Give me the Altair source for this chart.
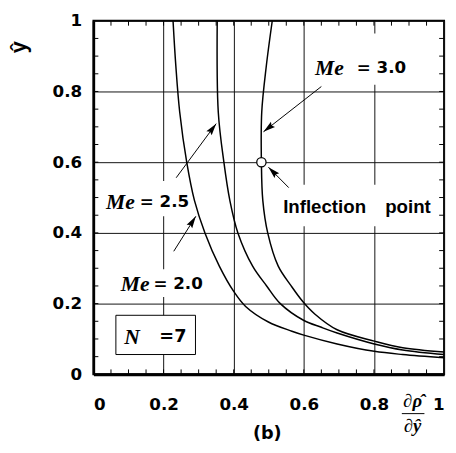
import math
import altair as alt
import pandas as pd

# ---------------- data ----------------
ME20_X = [0.227, 0.235, 0.246, 0.266, 0.288, 0.318, 0.359, 0.401, 0.434, 0.499, 0.566, 0.600, 0.695, 0.801, 0.882, 1.0]
ME20_Y = [1.0, 0.872, 0.742, 0.600, 0.492, 0.400, 0.306, 0.233, 0.192, 0.148, 0.122, 0.111, 0.086, 0.065, 0.056, 0.047]

ME25_X = [0.353, 0.356, 0.372, 0.389, 0.412, 0.454, 0.494, 0.533, 0.599, 0.650, 0.695, 0.801, 0.882, 1.0]
ME25_Y = [1.0, 0.742, 0.600, 0.492, 0.400, 0.306, 0.250, 0.200, 0.153, 0.133, 0.117, 0.086, 0.069, 0.056]

ME30_X = [0.510, 0.493, 0.480, 0.479, 0.483, 0.497, 0.527, 0.564, 0.597, 0.632, 0.695, 0.801, 0.882, 1.0]
ME30_Y = [1.0, 0.872, 0.742, 0.600, 0.492, 0.400, 0.306, 0.250, 0.206, 0.170, 0.126, 0.094, 0.075, 0.063]

SERIES = ["Me = 2.0", "Me = 2.5", "Me = 3.0"]

INFLECTION_X = [0.479]
INFLECTION_Y = [0.600]

X_TICKS = [0, 0.2, 0.4, 0.6, 0.8, 1]
Y_TICKS = [0, 0.2, 0.4, 0.6, 0.8, 1]
MINOR_TICKS = [round(i * 0.05, 2) for i in range(1, 20)]

# ---------------- annotations (data coordinates) ----------------
ME_LABEL_X = [0.160, 0.118, 0.714]          # right edge of italic "Me"
ME_VALUE_X = [0.171, 0.132, 0.751]          # left edge of "= n.n"
ME_LABEL_Y = [0.256, 0.486, 0.866]
ME_VALUES = ["= 2.0", "= 2.5", "= 3.0"]

ARROW_TAIL_X = [0.229, 0.236, 0.650, 0.557]
ARROW_TAIL_Y = [0.348, 0.556, 0.814, 0.528]
ARROW_TIP_X = [0.292, 0.350, 0.485, 0.499]
ARROW_TIP_Y = [0.447, 0.709, 0.686, 0.586]

BG_X = [0.014, 0.064, 0.532, 0.616]
BG_X2 = [0.268, 0.328, 0.966, 0.910]
BG_Y = [0.447, 0.219, 0.419, 0.819]
BG_Y2 = [0.547, 0.297, 0.536, 0.964]

BOX_X, BOX_X2, BOX_Y, BOX_Y2 = [0.064], [0.291], [0.056], [0.167]

PX_W, PX_H = 357, 360
TICK_LEN = 5

# ---------------- frames ----------------
rows = []
for name, xs, ys in zip(SERIES, [ME20_X, ME25_X, ME30_X], [ME20_Y, ME25_Y, ME30_Y]):
    for i, (x, y) in enumerate(zip(xs, ys)):
        rows.append({"series": name, "x": x, "y": y, "i": i})
curves = pd.DataFrame(rows)

arrow_rows = []
head_rows = []
for k in range(len(ARROW_TIP_X)):
    arrow_rows.append({"a": k, "x": ARROW_TAIL_X[k], "y": ARROW_TAIL_Y[k], "i": 0})
    arrow_rows.append({"a": k, "x": ARROW_TIP_X[k], "y": ARROW_TIP_Y[k], "i": 1})
    dx = (ARROW_TIP_X[k] - ARROW_TAIL_X[k]) * PX_W
    dy = (ARROW_TIP_Y[k] - ARROW_TAIL_Y[k]) * PX_H
    ang = math.degrees(math.atan2(dx, dy)) % 360
    head_rows.append({"x": ARROW_TIP_X[k], "y": ARROW_TIP_Y[k], "ang": ang})
arrows = pd.DataFrame(arrow_rows)
heads = pd.DataFrame(head_rows)

bg = pd.DataFrame({"x": BG_X, "x2": BG_X2, "y": BG_Y, "y2": BG_Y2})
box = pd.DataFrame({"x": BOX_X, "x2": BOX_X2, "y": BOX_Y, "y2": BOX_Y2})
inflect = pd.DataFrame({"x": INFLECTION_X, "y": INFLECTION_Y})
minor = pd.DataFrame({"v": MINOR_TICKS})

me_lab = pd.DataFrame({"x": ME_LABEL_X, "y": ME_LABEL_Y, "t": ["Me"] * 3})
me_val = pd.DataFrame({"x": ME_VALUE_X, "y": ME_LABEL_Y, "t": ME_VALUES})

SC = alt.Scale(domain=[0, 1], nice=False, zero=False)
SANS = "DejaVu Sans"
SERIF = "Liberation Serif"

def X(field="x", axis=None):
    return alt.X(f"{field}:Q", scale=SC, axis=axis, title=None)

def Y(field="y", axis=None):
    return alt.Y(f"{field}:Q", scale=SC, axis=axis, title=None)

main_x_axis = alt.Axis(values=X_TICKS, format="~g", grid=True, ticks=False, tickSize=0, domain=True,
                       domainColor="black", domainWidth=3, gridColor="#111", gridWidth=1,
                       labelFont=SANS, labelFontWeight="bold", labelFontSize=17, labelColor="black",
                       labelPadding=23, labelBaseline="top", title=None, orient="bottom")
main_y_axis = alt.Axis(values=Y_TICKS, format="~g", grid=True, ticks=False, tickSize=0, domain=True,
                       domainColor="black", domainWidth=2.5, gridColor="#111", gridWidth=1,
                       labelFont=SANS, labelFontWeight="bold", labelFontSize=17, labelColor="black",
                       labelPadding=12, title=None, orient="left")

bg_layer = alt.Chart(bg).mark_rect(fill="white", stroke=None).encode(
    x=X("x"), x2="x2", y=Y("y"), y2="y2")

box_layer = alt.Chart(box).mark_rect(fill="white", stroke="black", strokeWidth=1).encode(
    x=X("x"), x2="x2", y=Y("y"), y2="y2")

# inward minor ticks on all four sides
tick_b = alt.Chart(minor).mark_rule(color="black", strokeWidth=1).encode(
    x=X("v"), y=alt.value(PX_H), y2=alt.value(PX_H - TICK_LEN))
tick_t = alt.Chart(minor).mark_rule(color="black", strokeWidth=1).encode(
    x=X("v"), y=alt.value(0), y2=alt.value(TICK_LEN))
tick_l = alt.Chart(minor).mark_rule(color="black", strokeWidth=1).encode(
    y=Y("v"), x=alt.value(0), x2=alt.value(TICK_LEN))
tick_r = alt.Chart(minor).mark_rule(color="black", strokeWidth=1).encode(
    y=Y("v"), x=alt.value(PX_W), x2=alt.value(PX_W - TICK_LEN))

lines = alt.Chart(curves).mark_line(color="black", strokeWidth=1.5, interpolate="catmull-rom").encode(
    x=X("x", main_x_axis), y=Y("y", main_y_axis), detail="series:N", order="i:Q")

arrow_lines = alt.Chart(arrows).mark_line(color="black", strokeWidth=1).encode(
    x=X(), y=Y(), detail="a:N", order="i:Q")

arrow_heads = alt.Chart(heads).mark_point(
    shape="M0,0L0.55,2L0,1.7L-0.55,2Z", filled=True, color="black", size=150, opacity=1
).encode(x=X(), y=Y(), angle=alt.Angle("ang:Q", scale=None))

point = alt.Chart(inflect).mark_point(shape="circle", filled=True, fill="white", stroke="black",
                                      strokeWidth=1.3, size=90, opacity=1).encode(
    x=X(), y=Y())

me_text = alt.Chart(me_lab).mark_text(font=SERIF, fontStyle="italic", fontWeight="bold", fontSize=22,
                                      align="right", baseline="middle", color="black").encode(
    x=X(), y=Y(), text="t:N")
val_text = alt.Chart(me_val).mark_text(font=SANS, fontWeight="bold", fontSize=17,
                                       align="left", baseline="middle", color="black").encode(
    x=X(), y=Y(), text="t:N")

infl_text = alt.Chart(pd.DataFrame({"x": [0.541, 0.832], "y": [0.472, 0.472], "t": ["Inflection", "point"]})).mark_text(
    font="Liberation Sans", fontWeight="bold", fontSize=19, align="left", baseline="middle", color="black").encode(
    x=X(), y=Y(), text="t:N")

n_text_a = alt.Chart(pd.DataFrame({"x": [0.088], "y": [0.104], "t": ["N"]})).mark_text(
    font=SERIF, fontStyle="italic", fontWeight="bold", fontSize=22, align="left", baseline="middle",
    color="black").encode(x=X(), y=Y(), text="t:N")
n_text_b = alt.Chart(pd.DataFrame({"x": [0.188], "y": [0.104], "t": ["=7"]})).mark_text(
    font=SANS, fontWeight="bold", fontSize=18, align="left", baseline="middle",
    color="black").encode(x=X(), y=Y(), text="t:N")

# axis titles / caption (pixel placement outside plot)
ytitle = alt.Chart(pd.DataFrame({"t": ["ŷ"]})).mark_text(
    font="Liberation Sans", fontWeight="bold", fontSize=22, angle=270, align="center",
    baseline="middle", color="black").encode(x=alt.value(-76), y=alt.value(27), text="t:N")
caption = alt.Chart(pd.DataFrame({"t": ["(b)"]})).mark_text(
    font=SANS, fontWeight="bold", fontSize=18, align="center", baseline="middle",
    color="black").encode(x=alt.value(177), y=alt.value(421), text="t:N")
frac_top = alt.Chart(pd.DataFrame({"t": ["\u2202\u03c1\u0302"]})).mark_text(
    font=SERIF, fontStyle="italic", fontWeight="bold", fontSize=19, align="center",
    baseline="middle", color="black").encode(x=alt.value(325), y=alt.value(387), text="t:N")
frac_bot = alt.Chart(pd.DataFrame({"t": ["\u2202y\u0302"]})).mark_text(
    font=SERIF, fontStyle="italic", fontWeight="bold", fontSize=19, align="center",
    baseline="middle", color="black").encode(x=alt.value(325), y=alt.value(413), text="t:N")
frac_line = alt.Chart(pd.DataFrame({"a": [0]})).mark_rule(color="black", strokeWidth=1).encode(
    x=alt.value(314), x2=alt.value(337), y=alt.value(400))

chart = alt.layer(
    bg_layer, box_layer, lines, tick_b, tick_t, tick_l, tick_r, arrow_lines, arrow_heads, point,
    me_text, val_text, infl_text, n_text_a, n_text_b,
    ytitle, caption, frac_top, frac_bot, frac_line,
).resolve_axis(x="independent", y="independent").properties(
    width=PX_W, height=PX_H,
    autosize=alt.AutoSizeParams(type="none"),
    padding={"left": 87, "top": 9, "right": 4, "bottom": 70},
    background="white",
).configure_view(stroke="black", strokeWidth=2)

chart.save("out.html", embed_options={"renderer": "svg", "actions": False})
